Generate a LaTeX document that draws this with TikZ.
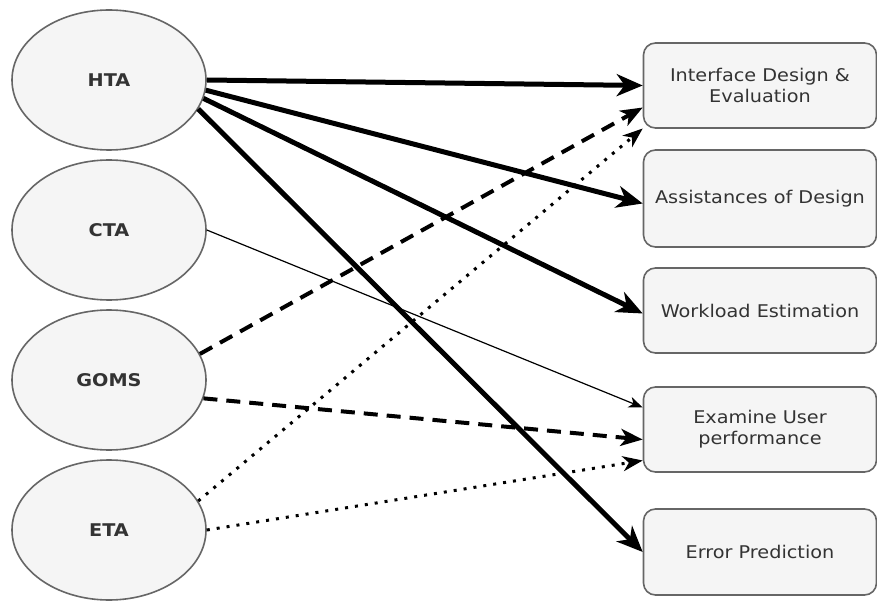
\documentclass[tikz,border=0pt]{standalone}
\usepackage{fontspec}
\setmainfont{DejaVu Sans}
\usetikzlibrary{arrows.meta,shapes.geometric}
\definecolor{fillg}{HTML}{F5F5F5}
\definecolor{strokeg}{HTML}{666666}
\definecolor{txt}{HTML}{333333}
\newcommand{\wtxt}[1]{\scalebox{1.1}[1]{#1}}
\begin{document}
\begin{tikzpicture}[x=1pt,y=-1pt,
  meth/.style={ellipse, draw=strokeg, fill=fillg, line width=1.6pt, minimum width=194pt, minimum height=140pt, inner sep=0pt, font=\fontsize{17.5}{21}\selectfont\bfseries, text=txt},
  usebox/.style={rectangle, rounded corners=12pt, draw=strokeg, fill=fillg, line width=1.6pt, minimum width=233pt, minimum height=85pt, inner sep=0pt, font=\fontsize{17.5}{21}\selectfont, text=txt, align=center},
  heavy/.style={line width=5pt, -{Stealth[length=26pt,width=22pt,inset=8pt]}},
  thinarrow/.style={line width=1.2pt, -{Stealth[length=14pt,width=11pt,inset=4pt]}},
  dasharrow/.style={line width=4pt, dash pattern=on 14pt off 9pt, -{Stealth[length=22pt,width=17pt,inset=6pt]}},
  dotarrow/.style={line width=3pt, dash pattern=on 3pt off 7pt, -{Stealth[length=20pt,width=15pt,inset=6pt]}}]
\useasboundingbox (0,0) rectangle (877,601);
\fill[white] (0,0) rectangle (877,601);
\node[meth] (hta) at (109,80) {\wtxt{HTA}};
\node[meth] (cta) at (109,230) {\wtxt{CTA}};
\node[meth] (goms) at (109,380) {\wtxt{GOMS}};
\node[meth] (eta) at (109,530) {\wtxt{ETA}};
\node[usebox] (b1) at (760,85.5) {\wtxt{Interface Design \&}\\\wtxt{Evaluation}};
\node[usebox, minimum height=97pt] (b2) at (760,198.5) {\wtxt{Assistances of Design}};
\node[usebox] (b3) at (760,310.5) {\wtxt{Workload Estimation}};
\node[usebox] (b4) at (760,429.5) {\wtxt{Examine User}\\\wtxt{performance}};
\node[usebox, minimum height=86pt] (b5) at (760,552) {\wtxt{Error Prediction}};
\draw[heavy] (hta.east) -- (b1.west);
\draw[heavy] (hta.-6) -- ([yshift=-5pt]b2.west);
\draw[heavy] (hta.-11) -- ([yshift=-3pt]b3.west);
\draw[heavy] (hta.-18) -- (b5.west);
\draw[thinarrow] (cta.east) -- ([yshift=22pt]b4.west);
\draw[dasharrow] (goms.16) -- ([yshift=-22pt]b1.west);
\draw[dasharrow] (goms.-11) -- ([yshift=-10pt]b4.west);
\draw[dotarrow] (eta.18) -- ([yshift=-43pt]b1.west);
\draw[dotarrow] (eta.east) -- ([yshift=-31pt]b4.west);
\end{tikzpicture}
\end{document}
